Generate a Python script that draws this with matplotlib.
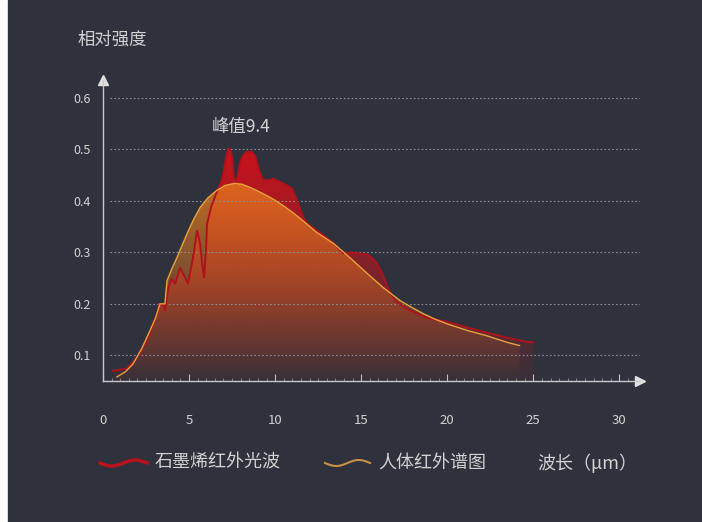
import numpy as np
import matplotlib
matplotlib.use("Agg")
import matplotlib.pyplot as plt
from matplotlib.patches import Polygon, Rectangle
from matplotlib.lines import Line2D

plt.rcParams['font.family'] = ['Noto Sans CJK SC', 'DejaVu Sans']

# 人体红外谱图 (wavelength um, relative intensity)
body_x = [0.81, 1.3, 1.74, 2.25, 2.73, 3.05, 3.31, 3.6, 3.72, 4.0, 4.3, 4.6,
          4.88, 5.25, 5.64, 6.1, 6.6, 7.1, 7.67, 8.1, 8.55, 9.0, 9.53, 10.0,
          10.5, 11.0, 11.45, 12.4, 13.4, 14.4, 15.35, 16.3, 17.27, 18.0, 18.6,
          19.3, 20.0, 21.2, 22.3, 23.5, 24.2]
body_y = [0.058, 0.068, 0.083, 0.113, 0.148, 0.172, 0.200, 0.200, 0.245, 0.268,
          0.290, 0.314, 0.336, 0.363, 0.387, 0.406, 0.420, 0.430, 0.434, 0.432,
          0.426, 0.419, 0.410, 0.401, 0.390, 0.378, 0.366, 0.339, 0.317, 0.288,
          0.259, 0.231, 0.206, 0.192, 0.181, 0.170, 0.161, 0.148, 0.138, 0.125,
          0.119]

# 石墨烯红外光波
gr_x = [0.58, 1.4, 2.15, 2.73, 3.2, 3.26, 3.5, 3.6, 3.8, 4.0, 4.19, 4.48, 4.77,
        4.94, 5.23, 5.47, 5.64, 5.76, 5.87, 5.99, 6.05, 6.3, 6.6, 6.9, 7.05,
        7.15, 7.25, 7.33, 7.42, 7.5, 7.6, 7.73, 7.85, 7.95, 8.08, 8.25, 8.43,
        8.65, 8.84, 9.07, 9.3, 9.6, 9.88, 10.47, 10.99, 11.34, 11.63, 11.86,
        12.6, 13.4, 13.95, 14.4, 14.77, 15.35, 15.8, 16.2, 16.57, 16.98, 17.67,
        18.14, 18.8, 20.0, 21.16, 22.3, 23.5, 24.65, 25.0]
gr_y = [0.070, 0.074, 0.103, 0.142, 0.187, 0.200, 0.197, 0.187, 0.232, 0.249,
        0.239, 0.270, 0.251, 0.239, 0.290, 0.342, 0.317, 0.278, 0.251, 0.309,
        0.356, 0.390, 0.416, 0.440, 0.465, 0.485, 0.498, 0.502, 0.497, 0.485,
        0.446, 0.434, 0.453, 0.472, 0.485, 0.493, 0.496, 0.495, 0.488, 0.459,
        0.441, 0.440, 0.443, 0.434, 0.424, 0.395, 0.368, 0.356, 0.338, 0.318,
        0.298, 0.300, 0.298, 0.296, 0.284, 0.261, 0.229, 0.206, 0.190, 0.183,
        0.173, 0.165, 0.154, 0.144, 0.134, 0.126, 0.125]

x_ticks = [0, 5, 10, 15, 20, 25, 30]
y_ticks = [0.1, 0.2, 0.3, 0.4, 0.5, 0.6]

bg = '#2f323c'
fg = '#d2d2d2'
y0 = 0.05

fig = plt.figure(figsize=(7.02, 5.22), dpi=100)
fig.patch.set_facecolor('white')
fig.patches.append(Rectangle((8 / 702, 0), 1, 1, transform=fig.transFigure,
                             color=bg, zorder=-10))
ax = fig.add_axes([0.1467, 0.270, 0.765, 0.577])
ax.set_facecolor('none')
ax.set_xlim(0, 31.2)
ax.set_ylim(y0, 0.635)

# dotted grid
ax.hlines(y_ticks, 0.4, 31.2, colors='#8d9099', linestyles=(0, (1.5, 2)),
          linewidth=0.8, zorder=4)


def gradient_fill(xs, ys, rgb, a_top, a_bot, top, z):
    verts = [(xs[0], y0)] + list(zip(xs, ys)) + [(xs[-1], y0)]
    poly = Polygon(verts, closed=True, facecolor='none', edgecolor='none')
    ax.add_patch(poly)
    n = 256
    alpha = np.linspace(a_bot, a_top, n)
    img = np.zeros((n, 2, 4))
    img[:, :, :3] = np.array(rgb) / 255.0
    img[:, :, 3] = alpha[:, None]
    im = ax.imshow(img, extent=[xs[0], xs[-1], y0, top], origin='lower',
                   aspect='auto', zorder=z, interpolation='bilinear')
    im.set_clip_path(poly)


gradient_fill(gr_x, gr_y, (205, 18, 26), 1.0, 0.05, 0.5, 2)
gradient_fill(body_x, body_y, (230, 122, 30), 0.8, 0.0, 0.44, 3)
ax.plot(gr_x, gr_y, color='#b0121c', lw=1.4, zorder=5, solid_joinstyle='round')
ax.plot(body_x, body_y, color='#e8a23c', lw=1.0, zorder=6, solid_joinstyle='round')

# axes
for s in ['top', 'right']:
    ax.spines[s].set_visible(False)
for s in ['left', 'bottom']:
    ax.spines[s].set_color('#c8c8c8')
    ax.spines[s].set_linewidth(1)
ax.plot([1], [0], marker='>', color='#e0e0e0', ms=7, transform=ax.transAxes,
        clip_on=False)
ax.plot([0], [1], marker='^', color='#e0e0e0', ms=7, transform=ax.transAxes,
        clip_on=False)

ax.set_xticks(x_ticks)
ax.set_xticks(np.arange(0, 31, 0.5), minor=True)
ax.tick_params(axis='x', which='major', direction='in', length=5, color='#c8c8c8',
               labelcolor=fg, labelsize=9.5, pad=24)
ax.tick_params(axis='x', which='minor', direction='in', length=2.5, color='#9a9a9a')
ax.set_yticks(y_ticks)
ax.set_yticklabels([f'{v:.1f}' for v in y_ticks])
ax.tick_params(axis='y', length=0, labelcolor=fg, labelsize=9, pad=9)

fig.text(78 / 702, 1 - 40 / 522, '相对强度', color=fg, fontsize=12.5,
         va='center', ha='left')
ax.text(6.3, 0.543, '峰值9.4', color=fg, fontsize=12.5, va='center', ha='left')

# legend row
t = np.linspace(0, 1, 40)
wave = np.sin(t * 2 * np.pi) * 3
fig.add_artist(Line2D((100 + 47 * t) / 702, 1 - (463 + wave) / 522,
                      color='#b8121c', lw=2.5))
fig.add_artist(Line2D((325 + 45 * t) / 702, 1 - (463 + wave) / 522,
                      color='#c8904a', lw=1.5))
fig.text(155 / 702, 1 - 463 / 522, '石墨烯红外光波', color=fg, fontsize=13,
         va='center', ha='left')
fig.text(378 / 702, 1 - 463 / 522, '人体红外谱图', color=fg, fontsize=13,
         va='center', ha='left')
fig.text(537 / 702, 1 - 463 / 522, '波长（μm）', color=fg, fontsize=13,
         va='center', ha='left')

fig.savefig('out.png', dpi=100, facecolor=fig.get_facecolor())
